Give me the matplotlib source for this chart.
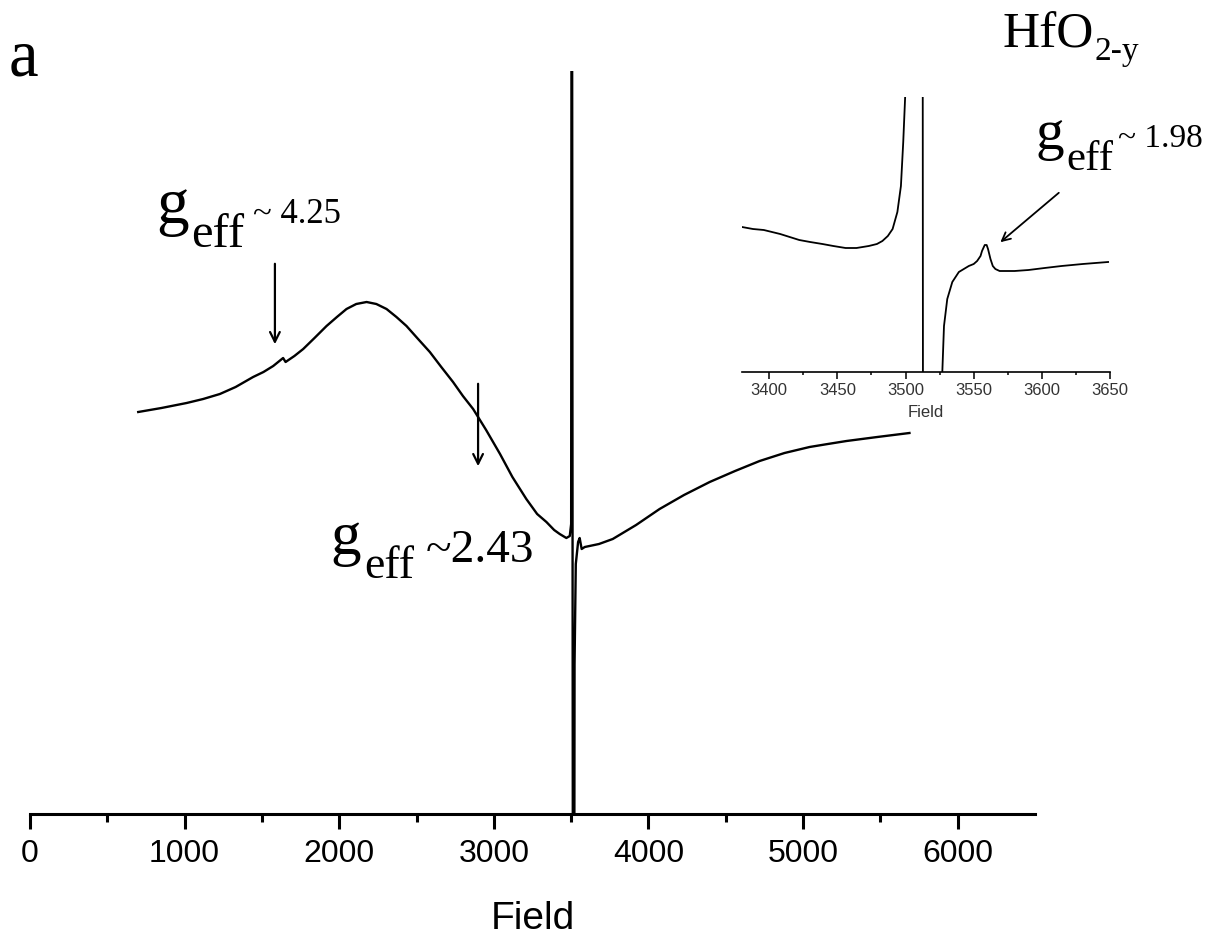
import matplotlib
matplotlib.use("Agg")
import matplotlib.pyplot as plt
import numpy as np

W, H = 1211, 937

# ---- main spectrum (field, intensity in arbitrary units) ----
main_field = [700, 850, 1013, 1120, 1228, 1330, 1443, 1510, 1573, 1637, 1653,
              1710, 1767, 1840, 1918, 1985, 2047, 2110, 2177, 2240, 2306, 2370,
              2435, 2510, 2586, 2660, 2736, 2800, 2866, 2950, 3040, 3120, 3210,
              3280, 3340, 3390, 3426, 3469, 3491, 3500,
              3504, 3515, 3522, 3530, 3545, 3555, 3568, 3588, 3680, 3769, 3920,
              4072, 4230, 4396, 4560, 4719, 4880, 5042, 5160, 5281, 5480, 5688]
main_signal = [402, 406, 411, 415, 420, 427, 437, 442, 448, 456, 452,
               458, 465, 476, 488, 497, 505, 510, 512, 510, 505, 497,
               488, 475, 462, 447, 432, 418, 405, 384, 360, 337, 315,
               300, 292, 284, 280, 276, 278, 290,
               1200, -800, 150, 250, 272, 276, 265, 267, 270, 275, 289,
               305, 319, 332, 343, 353, 361, 367, 370, 373, 377, 381]

# ---- inset spectrum ----
inset_field = [3380, 3388, 3396, 3402, 3408, 3415, 3422, 3430, 3439, 3447, 3456,
               3464, 3473, 3479, 3483, 3487, 3490.5, 3494,
               3496.6, 3498.3, 3499.7, 3501, 3512.5, 3513, 3526.5, 3527,
               3528.2, 3530.6, 3534.3, 3539.1, 3546.4, 3550, 3552.5, 3555, 3556.1,
               3558.1, 3559.5, 3560.5, 3562.3, 3564, 3565.9, 3569, 3573.2,
               3580, 3590.2, 3602, 3614.5, 3630, 3648.6]
inset_signal = [145, 143, 142, 140, 138, 135, 132, 130, 128, 126, 124,
                124, 126, 128, 131, 136, 143, 160,
                186, 230, 275, 500, 500, -500, -5, 1,
                46, 73, 90, 100, 106, 108, 111, 116, 121,
                127, 127, 123, 113, 106, 103, 101, 101,
                101, 102, 104, 106, 108, 110]

main_ticks = [0, 1000, 2000, 3000, 4000, 5000, 6000]
inset_ticks = [3400, 3450, 3500, 3550, 3600, 3650]


def fx(px):
    return px / W


def fy(py):
    return 1 - py / H


fig = plt.figure(figsize=(W / 100, H / 100), dpi=100)

# main axes
ax = fig.add_axes([fx(30), fy(815), fx(1035) - fx(30), fy(72) - fy(815)])
ax.plot(main_field, main_signal, color="black", lw=1.7, solid_joinstyle="round")
ax.set_xlim(0, 6500)
ax.set_ylim(0, 743)
for s in ["left", "right", "top"]:
    ax.spines[s].set_visible(False)
ax.spines["bottom"].set_linewidth(2.2)
ax.set_yticks([])
ax.set_xticks(main_ticks)
ax.set_xticks(np.arange(500, 6500, 1000), minor=True)
ax.tick_params(axis="x", which="major", length=11, width=2.2, pad=6,
               labelsize=23, direction="out")
ax.tick_params(axis="x", which="minor", length=6, width=2.2, direction="out")
for lab in ax.get_xticklabels():
    lab.set_fontfamily("Liberation Sans")
ax.set_xlabel("Field", fontsize=28, fontfamily="Liberation Sans", labelpad=23)

# arrows in main
arrow_kw = dict(arrowstyle="->,head_length=0.7,head_width=0.35", lw=1.6, color="black")
ax.annotate("", xy=(1584, 467), xytext=(1584, 553), arrowprops=arrow_kw)
ax.annotate("", xy=(2898, 345), xytext=(2898, 433), arrowprops=arrow_kw)

# inset axes
ia = fig.add_axes([fx(742), fy(373), fx(1110) - fx(742), fy(98) - fy(373)])
ia.patch.set_alpha(0)
ia.plot(inset_field, inset_signal, color="black", lw=1.3, solid_joinstyle="round")
ia.set_xlim(3380, 3650)
ia.set_ylim(0, 275)
for s in ["left", "right", "top"]:
    ia.spines[s].set_visible(False)
ia.spines["bottom"].set_linewidth(1.2)
ia.set_yticks([])
ia.set_xticks(inset_ticks)
ia.set_xticks(np.arange(3425, 3650, 50), minor=True)
ia.tick_params(axis="x", which="major", length=5, width=1.1, pad=2,
               labelsize=12, labelcolor="#333333")
ia.tick_params(axis="x", which="minor", length=2.5, width=1.1)
for lab in ia.get_xticklabels():
    lab.set_fontfamily("Liberation Sans")
ia.set_xlabel("Field", fontsize=12, fontfamily="Liberation Sans",
              color="#333333", labelpad=5)
ia.annotate("", xy=(3568, 128), xytext=(3614, 181),
            arrowprops=dict(arrowstyle="->,head_length=0.6,head_width=0.3",
                            lw=1.3, color="black"))

serif = "Liberation Serif"


def txt(px, py, s, size):
    fig.text(fx(px), fy(py), s, fontsize=size, fontfamily=serif,
             ha="left", va="baseline", color="black")


# panel label and compound
txt(9, 76, "a", 48)
txt(1003, 47, "HfO", 37)
txt(1095, 60, "2-y", 24)

# g_eff ~ 4.25
txt(156, 223, "g", 47)
txt(191, 247, "eff", 35)
txt(253, 223, "~ 4.25", 25)

# g_eff ~ 2.43
txt(330, 554, "g", 44)
txt(364, 578, "eff", 33)
txt(426, 562, "~2.43", 34)

# g_eff ~ 1.98
txt(1036, 149, "g", 41)
txt(1066, 170, "eff", 31)
txt(1118, 147, "~ 1.98", 24)

fig.savefig("out.png", dpi=100)
